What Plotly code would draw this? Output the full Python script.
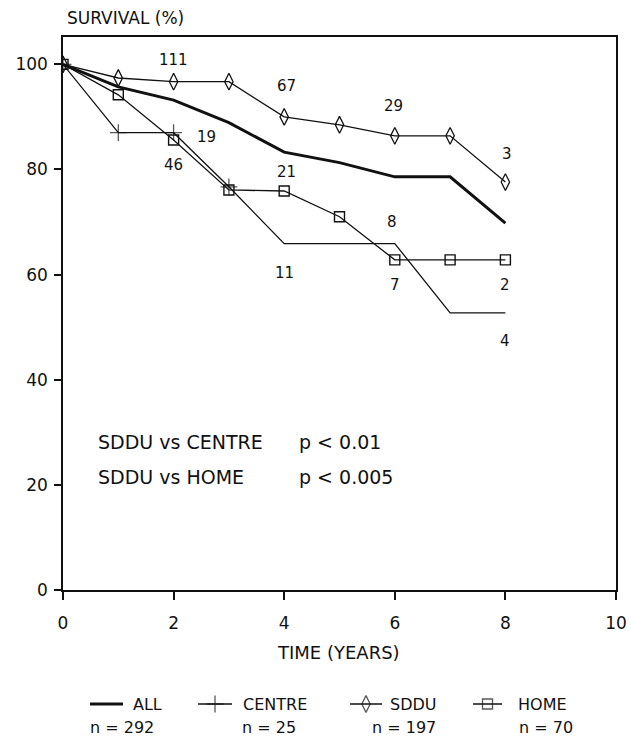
import plotly.graph_objects as go

# ---- data ----
years = [0, 1, 2, 3, 4, 5, 6, 7, 8]
all_surv = [100, 95.7, 93.2, 88.9, 83.3, 81.3, 78.6, 78.6, 69.8]
centre_surv = [100, 87.0, 87.0, 76.7, 65.9, 65.9, 65.9, 52.7, 52.7]
sddu_surv = [100, 97.4, 96.7, 96.7, 90.0, 88.5, 86.4, 86.4, 77.6]
home_surv = [100, 94.2, 85.6, 76.1, 75.9, 71.0, 62.8, 62.8, 62.8]

risk_text = ["111", "67", "29", "3", "19", "46", "21", "11", "8", "7", "2", "4"]
risk_x = [2.0, 4.05, 5.97, 8.03, 2.6, 2.0, 4.05, 4.0, 5.95, 6.0, 8.0, 8.0]
risk_y = [100.9, 95.9, 92.1, 83.0, 86.2, 80.9, 79.5, 60.3, 70.0, 58.0, 58.0, 47.4]

group_names = ["ALL", "CENTRE", "SDDU", "HOME"]
group_n = ["n = 292", "n = 25", "n = 197", "n = 70"]

x_ticks = [0, 2, 4, 6, 8, 10]
y_ticks = [0, 20, 40, 60, 80, 100]

FONT = "DejaVu Sans"
BLACK = "#111111"

# ---- geometry helpers (pixels) ----
W, H = 631, 739
L, R, T, B = 63, 15, 37, 5
plot_h = H - T - B
def py(p):
    return (H - B - p) / plot_h
def px(p):
    return (p - L) / (W - L - R)

main_bottom = py(590)

fig = go.Figure()

line_thin = dict(color=BLACK, width=1.3)

fig.add_trace(go.Scatter(x=years, y=all_surv, mode="lines",
                         line=dict(color=BLACK, width=3), name="ALL"))
fig.add_trace(go.Scatter(x=years, y=centre_surv, mode="lines+markers",
                         line=line_thin,
                         marker=dict(symbol="cross-thin-open", size=[12, 12, 12, 12, 0, 0, 0, 0, 0],
                                     line=dict(color=BLACK, width=1.3)),
                         name="CENTRE"))
fig.add_trace(go.Scatter(x=years, y=sddu_surv, mode="lines+markers",
                         line=line_thin,
                         marker=dict(symbol="diamond-tall-open", size=12,
                                     color=BLACK, line=dict(color=BLACK, width=1.3)),
                         name="SDDU"))
fig.add_trace(go.Scatter(x=years, y=home_surv, mode="lines+markers",
                         line=line_thin,
                         marker=dict(symbol="square-open", size=10,
                                     color=BLACK, line=dict(color=BLACK, width=1.4)),
                         name="HOME"))

# ---- custom legend on an invisible axis ----
leg_sym_x = [[90, 123], [198, 232], [350, 382], [473, 502]]
leg_text_x = [131, 241, 388, 516]
leg_n_x = [88, 240, 370, 517]
leg_symbols = [None, "cross-thin-open", "diamond-tall-open", "square-open"]
leg_sizes = [0, 12, 12, 10]
leg_widths = [3, 1.3, 1.3, 1.3]
row1, row2 = 704, 727

def ly(p):
    # legend axis y2 domain [0, 0.1], range [0, 1]
    top = H - B - 0.1 * plot_h
    return (H - B - p) / (H - B - top)

for i, g in enumerate(group_names):
    xs = leg_sym_x[i]
    xm = [xs[0], (xs[0] + xs[1]) / 2, xs[1]]
    tr = dict(x=xm, y=[ly(row1)] * 3, xaxis="x2", yaxis="y2",
              line=dict(color=BLACK, width=leg_widths[i]), showlegend=False,
              hoverinfo="skip")
    if leg_symbols[i]:
        tr["mode"] = "lines+markers"
        tr["marker"] = dict(symbol=leg_symbols[i], size=[0, leg_sizes[i], 0],
                            color=BLACK, line=dict(color=BLACK, width=1.3))
    else:
        tr["mode"] = "lines"
    fig.add_trace(go.Scatter(**tr))

annotations = []
for t, x, y in zip(risk_text, risk_x, risk_y):
    annotations.append(dict(x=x, y=y, xref="x", yref="y", text=t, showarrow=False,
                            font=dict(family=FONT, size=15, color=BLACK)))

for i, g in enumerate(group_names):
    annotations.append(dict(x=px(leg_text_x[i]), y=py(row1), xref="paper", yref="paper",
                            text=g, showarrow=False, xanchor="left", yanchor="middle",
                            font=dict(family=FONT, size=16, color=BLACK)))
    annotations.append(dict(x=px(leg_n_x[i]), y=py(row2), xref="paper", yref="paper",
                            text=group_n[i], showarrow=False, xanchor="left", yanchor="middle",
                            font=dict(family=FONT, size=16, color=BLACK)))

# stats text
stats_left = ["SDDU vs CENTRE", "SDDU vs HOME"]
stats_right = ["p < 0.01", "p < 0.005"]
stats_y = [442, 477]
for a, b, y in zip(stats_left, stats_right, stats_y):
    annotations.append(dict(x=px(96), y=py(y), xref="paper", yref="paper", text=a,
                            showarrow=False, xanchor="left", yanchor="middle",
                            font=dict(family=FONT, size=19, color=BLACK)))
    annotations.append(dict(x=px(297), y=py(y), xref="paper", yref="paper", text=b,
                            showarrow=False, xanchor="left", yanchor="middle",
                            font=dict(family=FONT, size=19, color=BLACK)))

annotations.append(dict(x=px(65), y=py(18), xref="paper", yref="paper",
                        text="SURVIVAL (%)", showarrow=False, xanchor="left",
                        yanchor="middle", font=dict(family=FONT, size=17, color=BLACK)))
annotations.append(dict(x=px(338), y=py(652), xref="paper", yref="paper",
                        text="TIME (YEARS)", showarrow=False, xanchor="center",
                        yanchor="middle", font=dict(family=FONT, size=18, color=BLACK)))

fig.update_layout(
    width=W, height=H,
    margin=dict(l=L, r=R, t=T, b=B, autoexpand=False),
    paper_bgcolor="white", plot_bgcolor="white",
    showlegend=False,
    font=dict(family=FONT, color=BLACK),
    xaxis=dict(range=[0, 10], tickvals=x_ticks, ticks="outside", ticklen=8,
               tickwidth=1.5, tickcolor=BLACK, showline=True, linecolor=BLACK,
               linewidth=1.5, mirror=True, showgrid=False, zeroline=False,
               tickfont=dict(family=FONT, size=17, color=BLACK),
               ticklabelstandoff=9, anchor="y"),
    yaxis=dict(range=[0, 105.2], domain=[main_bottom, 1], tickvals=y_ticks,
               ticks="outside", ticklen=7, tickwidth=1.5, tickcolor=BLACK,
               showline=True, linecolor=BLACK, linewidth=1.5, mirror=True,
               showgrid=False, zeroline=False, ticklabelstandoff=3,
               tickfont=dict(family=FONT, size=17, color=BLACK), anchor="x"),
    xaxis2=dict(range=[L, W - R], domain=[0, 1], visible=False, anchor="y2",
                fixedrange=True),
    yaxis2=dict(range=[0, 1], domain=[0, 0.1], visible=False, anchor="x2",
                fixedrange=True),
    annotations=annotations,
)

fig.write_html("out.html", config={"displayModeBar": False},
               post_script="document.body.style.margin='0';document.body.style.overflow='hidden';")
